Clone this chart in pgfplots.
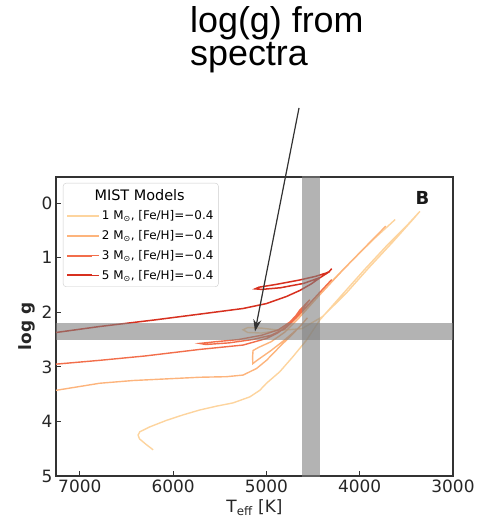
\documentclass[border=0pt]{standalone}
\usepackage{pgfplots}
\pgfplotsset{compat=1.18}
\usepackage{fontspec}
\setmainfont{DejaVu Sans}
\newfontfamily\arialfont{Liberation Sans}
\usetikzlibrary{arrows.meta}
\definecolor{cA}{HTML}{FDD49E}
\definecolor{cB}{HTML}{FDB47C}
\definecolor{cC}{HTML}{F26E4B}
\definecolor{cD}{HTML}{D7301F}
\definecolor{framecol}{HTML}{333333}
\definecolor{band}{HTML}{808080}
\begin{document}
\begin{tikzpicture}
\useasboundingbox (-56bp,-49bp) rectangle (431bp,476bp);
\begin{axis}[
  scale only axis, width=397bp, height=299bp,
  at={(0,0)}, anchor=south west,
  xmin=3000, xmax=7255, x dir=reverse,
  ymin=-0.48, ymax=5, y dir=reverse,
  xtick={3000,4000,5000,6000,7000}, ytick={0,1,2,3,4,5},
  tick align=inside, tick pos=left,
  major tick length=5bp,
  axis line style={draw=framecol, line width=1.4bp},
  tick style={draw=framecol, line width=1bp},
  /pgf/number format/assume math mode=true,
  /pgf/number format/1000 sep={},
  ticklabel style={font=\fontsize{17}{17}\selectfont, text=black!85},
  xlabel={T\textsubscript{eff} [K]},
  ylabel={\bfseries log g},
  label style={font=\fontsize{17}{17}\selectfont, text=black!85},
  legend cell align=left,
  legend style={at={(0,1)}, anchor=north west, xshift=7bp, yshift=-6bp,
    draw=black!20, rounded corners=3pt, fill=white,
    font=\fontsize{12}{12}\selectfont,
    row sep=5.2bp, inner xsep=3bp, inner ysep=4bp},
  legend image code/.code={\path (0bp,0bp) -- (32bp,0bp);
    \draw[#1, line width=2bp] (0bp,0bp) -- (25bp,0bp);},
]
\addlegendimage{empty legend}
\addlegendentry{\hspace{-7.4bp}\fontsize{14.5}{14.5}\selectfont MIST Models}
% 1 Msun
\addplot[cA, line width=1.4bp] coordinates {
(6214,4.52) (6290,4.42) (6360,4.32) (6375,4.25) (6357,4.19) (6250,4.10) (6071,3.98)
(5893,3.88) (5714,3.79) (5535,3.72) (5357,3.66) (5178,3.55) (5071,3.43) (4999,3.30)
(4857,3.09) (4714,2.81) (4570,2.51) (4427,2.14) (4200,1.70) (3950,1.22) (3700,0.76)
(3500,0.42) (3355,0.15)
(3420,0.28) (3650,0.72) (3900,1.18) (4150,1.66) (4400,2.08) (4620,2.30) (4850,2.33)
(5050,2.29) (5200,2.28) (5250,2.32) (5200,2.37) (5050,2.38) (4900,2.34) (4750,2.22)
(4600,1.98) (4350,1.52) (4100,1.08) (3850,0.66) (3620,0.30)
};
\addlegendentry{1 M\textsubscript{⊙}, [Fe/H]=−0.4}
% 2 Msun
\addplot[cB, line width=1.4bp] coordinates {
(7255,3.43) (6786,3.30) (6429,3.25) (6071,3.22) (5714,3.19) (5428,3.18) (5250,3.15)
(5106,3.03) (4999,2.88) (4857,2.63) (4714,2.39) (4620,2.22) (4560,2.10)
(4650,2.28) (4800,2.50) (4950,2.70) (5100,2.88) (5145,2.94) (5148,2.82) (5143,2.70)
(5080,2.64) (4950,2.54) (4800,2.36) (4650,2.10) (4450,1.72) (4200,1.26) (3950,0.82) (3720,0.42)
};
\addlegendentry{2 M\textsubscript{⊙}, [Fe/H]=−0.4}
% 3 Msun
\addplot[cC, line width=1.4bp] coordinates {
(7255,2.95) (6786,2.88) (6300,2.80) (5714,2.68) (5250,2.60) (4999,2.48) (4880,2.38)
(4785,2.26) (4700,2.10) (4642,1.96) (4580,1.85) (4535,1.77)
(4620,1.95) (4750,2.18) (4870,2.32) (5050,2.42) (5300,2.50) (5550,2.54) (5714,2.57)
(5650,2.59) (5400,2.56) (5150,2.50) (4950,2.42) (4800,2.30) (4680,2.10) (4560,1.88)
(4420,1.62) (4300,1.40)
};
\addlegendentry{3 M\textsubscript{⊙}, [Fe/H]=−0.4}
% 5 Msun
\addplot[cD, line width=1.5bp] coordinates {
(7255,2.37) (6786,2.26) (6200,2.14) (5700,2.03) (5250,1.93) (5000,1.84) (4785,1.71)
(4642,1.60) (4520,1.48) (4420,1.36) (4320,1.25)
(4360,1.28) (4470,1.34) (4650,1.41) (4900,1.49) (5080,1.54) (5120,1.57) (5050,1.58)
(4850,1.55) (4600,1.47) (4420,1.36) (4330,1.26) (4300,1.20)
};
\addlegendentry{5 M\textsubscript{⊙}, [Fe/H]=−0.4}
% bands
\addplot[draw=none, fill=band, fill opacity=0.6, forget plot] coordinates {
(4430,-1) (4620,-1) (4620,6) (4430,6)} -- cycle;
\addplot[draw=none, fill=band, fill opacity=0.6, forget plot] coordinates {
(2900,2.2) (7400,2.2) (7400,2.5) (2900,2.5)} -- cycle;
\end{axis}
\node[font=\fontsize{18}{18}\selectfont\bfseries, text=black!90] at (366.5bp,278bp) {B};
\draw[-{Stealth[length=12bp,width=8bp]}, draw=black!80, fill=black!80, line width=1.2bp]
  (243bp,368bp) -- (199bp,144.5bp);
\node[anchor=base west, inner sep=0pt, font=\arialfont\fontsize{36}{36}\selectfont] at (134bp,443bp) {log(g) from};
\node[anchor=base west, inner sep=0pt, font=\arialfont\fontsize{36}{36}\selectfont] at (134bp,410.5bp) {spectra};
\end{tikzpicture}
\end{document}
